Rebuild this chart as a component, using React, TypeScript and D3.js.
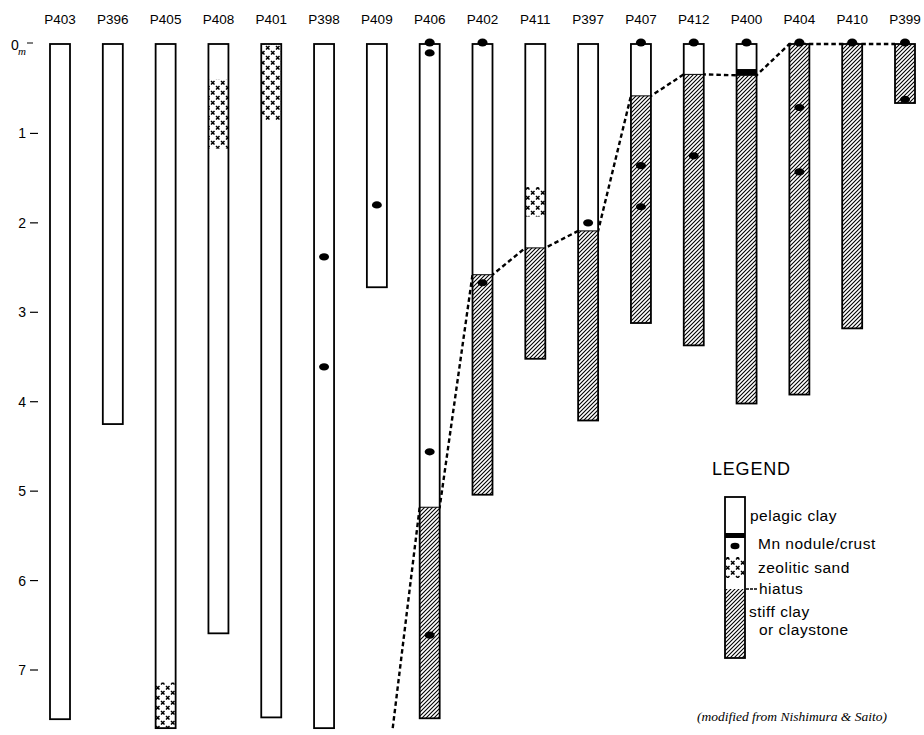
import React from "react";
import * as d3 from "d3";

const cores = ["P403","P396","P405","P408","P401","P398","P409","P406","P402","P411","P397","P407","P412","P400","P404","P410","P399"];
const coreBottoms = [7.55, 4.25, 7.65, 6.59, 7.53, 7.65, 2.72, 7.54, 5.04, 3.52, 4.21, 3.12, 3.37, 4.02, 3.92, 3.18, 0.66];
// depth of top of stiff clay (= hiatus) ; null if absent
const stiffTops: (number | null)[] = [null, null, null, null, null, null, null, 5.18, 2.58, 2.28, 2.09, 0.58, 0.34, 0.35, 0, 0, 0];
const zeoliteCores = ["P405", "P408", "P401", "P411"];
const zeoliteFrom = [7.14, 0.40, 0, 1.6];
const zeoliteTo = [7.65, 1.17, 0.85, 1.93];
const noduleCores = ["P406","P406","P406","P406","P398","P398","P409","P402","P402","P397","P407","P407","P407","P412","P412","P400","P404","P404","P404","P410","P399","P399"];
const noduleDepths = [0, 0.10, 4.56, 6.61, 2.38, 3.61, 1.80, 0, 2.67, 2.0, 0, 1.36, 1.82, 0, 1.25, 0, 0, 0.71, 1.43, 0, 0, 0.62];
const crustCores = ["P400"];
const crustFrom = [0.28];
const crustTo = [0.35];
const hiatusStartBetween = ["P409", "P406"];
const hiatusStartFrac = 0.3;
const hiatusStartDepth = 7.65;
const depthTicks = [1, 2, 3, 4, 5, 6, 7];

const legendItems = ["pelagic clay", "Mn nodule/crust", "zeolitic sand", "hiatus", "stiff clay", "or claystone"];

const W = 924, H = 735;
const COLW = 20;
const sans = "'Liberation Sans', Arial, Helvetica, sans-serif";

export default function App() {
  const x = d3.scalePoint<string>().domain(cores).range([60, 905]);
  const y = d3.scaleLinear().domain([0, 7]).range([44, 670]);
  const cx = (c: string) => x(c) as number;

  const hiatusPts: [number, number][] = [];
  const sx = cx(hiatusStartBetween[0]) + hiatusStartFrac * (cx(hiatusStartBetween[1]) - cx(hiatusStartBetween[0]));
  hiatusPts.push([sx, y(hiatusStartDepth)]);
  cores.forEach((c, i) => {
    const t = stiffTops[i];
    if (t === null) return;
    hiatusPts.push([cx(c) - COLW / 2, y(t)]);
    hiatusPts.push([cx(c) + COLW / 2, y(t)]);
  });
  hiatusPts.pop();
  const line = d3.line();

  const lx = 725, lTop = 497;

  return (
    <svg width={W} height={H} style={{ position: "absolute", left: 0, top: 0, background: "#fff" }}>
      <defs>
        <pattern id="hatch" patternUnits="userSpaceOnUse" width="4" height="4">
          <rect width="4" height="4" fill="#fff" />
          <path d="M-1,1 L1,-1 M0,4 L4,0 M3,5 L5,3" stroke="#000" strokeWidth="1.1" />
        </pattern>
        <pattern id="zeo" patternUnits="userSpaceOnUse" width="10" height="10">
          <rect width="10" height="10" fill="#fff" />
          <path d="M1,1 L4.5,4.5 M4.5,1 L1,4.5 M6,6 L9.5,9.5 M9.5,6 L6,9.5" stroke="#000" strokeWidth="1.5" />
        </pattern>
      </defs>

      <path d={line(hiatusPts) as string} fill="none" stroke="#000" strokeWidth={2.4} strokeDasharray="4.5,3" />

      {cores.map((c) => (
        <text key={"l" + c} x={cx(c)} y={24} textAnchor="middle" fontFamily={sans} fontSize={13.5}>{c}</text>
      ))}

      <text x={11} y={50} fontFamily={sans} fontSize={14}>0</text>
      <text x={18} y={55} fontFamily="'Liberation Serif', serif" fontStyle="italic" fontSize={11}>m</text>
      <line x1={27} x2={33} y1={y(0) - 1} y2={y(0) - 1} stroke="#000" strokeWidth={1} />
      {depthTicks.map((t) => (
        <g key={"t" + t}>
          <text x={26} y={y(t) + 5} textAnchor="end" fontFamily={sans} fontSize={14}>{t}</text>
          <line x1={30} x2={38} y1={y(t)} y2={y(t)} stroke="#000" strokeWidth={1.2} />
        </g>
      ))}

      {cores.map((c, i) => {
        const left = cx(c) - COLW / 2;
        const bottom = coreBottoms[i];
        const t = stiffTops[i];
        return (
          <g key={"c" + c}>
            <rect x={left} y={y(0)} width={COLW} height={y(bottom) - y(0)} fill="#fff" />
            {t !== null && (
              <rect x={left} y={y(t)} width={COLW} height={y(bottom) - y(t)} fill="url(#hatch)" />
            )}
          </g>
        );
      })}
      {zeoliteCores.map((c, i) => (
        <rect key={"z" + i} x={cx(c) - COLW / 2} y={y(zeoliteFrom[i])} width={COLW} height={y(zeoliteTo[i]) - y(zeoliteFrom[i])} fill="url(#zeo)" />
      ))}
      {crustCores.map((c, i) => (
        <rect key={"k" + i} x={cx(c) - COLW / 2} y={y(crustFrom[i])} width={COLW} height={y(crustTo[i]) - y(crustFrom[i])} fill="#000" />
      ))}
      {cores.map((c, i) => {
        const t = stiffTops[i];
        return (
          <g key={"o" + c}>
            {t !== null && t > 0 && (
              <line x1={cx(c) - COLW / 2} x2={cx(c) + COLW / 2} y1={y(t)} y2={y(t)} stroke="#000" strokeWidth={1} />
            )}
            <rect x={cx(c) - COLW / 2} y={y(0)} width={COLW} height={y(coreBottoms[i]) - y(0)} fill="none" stroke="#000" strokeWidth={1.8} />
          </g>
        );
      })}
      {noduleCores.map((c, i) => (
        <ellipse key={"n" + i} cx={cx(c)} cy={noduleDepths[i] === 0 ? y(0) - 1.5 : y(noduleDepths[i])} rx={5} ry={noduleDepths[i] === 0 ? 4 : 3.6} fill="#000" />
      ))}

      <text x={712} y={475} fontFamily={sans} fontSize={18} letterSpacing={0.8}>LEGEND</text>
      <rect x={lx} y={lTop} width={COLW} height={92} fill="#fff" />
      <rect x={lx} y={533} width={COLW} height={5} fill="#000" />
      <ellipse cx={lx + 10} cy={546} rx={4.5} ry={3.3} fill="#000" />
      <rect x={lx + 1} y={557} width={COLW - 2} height={21} fill="url(#zeo)" />
      <rect x={lx} y={589} width={COLW} height={69} fill="url(#hatch)" />
      <rect x={lx} y={lTop} width={COLW} height={161} fill="none" stroke="#000" strokeWidth={1.8} />
      <line x1={746} x2={757} y1={589} y2={589} stroke="#000" strokeWidth={1.5} strokeDasharray="3,1" />
      <text x={750} y={521} fontFamily={sans} fontSize={15.5} letterSpacing={0.5}>{legendItems[0]}</text>
      <text x={758} y={549} fontFamily={sans} fontSize={15.5} letterSpacing={0.5}>{legendItems[1]}</text>
      <text x={758} y={573} fontFamily={sans} fontSize={15.5} letterSpacing={0.5}>{legendItems[2]}</text>
      <text x={759} y={594} fontFamily={sans} fontSize={15.5} letterSpacing={0.5}>{legendItems[3]}</text>
      <text x={749} y={617} fontFamily={sans} fontSize={15.5} letterSpacing={0.5}>{legendItems[4]}</text>
      <text x={759} y={635} fontFamily={sans} fontSize={15.5} letterSpacing={0.5}>{legendItems[5]}</text>

      <text x={887} y={721} textAnchor="end" fontFamily="'Liberation Serif', 'Times New Roman', serif" fontStyle="italic" fontSize={13.5}>(modified from Nishimura &amp; Saito)</text>
    </svg>
  );
}
